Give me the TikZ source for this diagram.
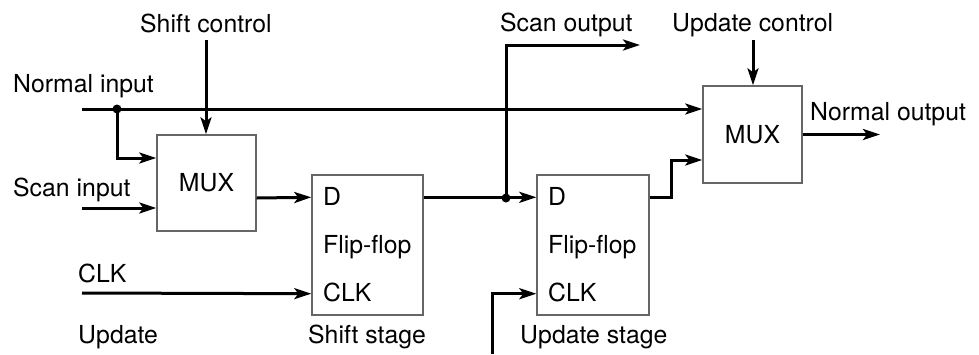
\documentclass[tikz,border=0pt]{standalone}
\usepackage{fontspec}
\setmainfont{TeX Gyre Heros}
\usetikzlibrary{arrows.meta}
\begin{document}
\begin{tikzpicture}[x=1pt,y=-1pt,
  every node/.style={font=\fontsize{24.8}{30}\selectfont, inner sep=0pt},
  blk/.style={draw=black!60, line width=1.4pt},
  wire/.style={line width=3pt, -{Stealth[length=17pt,width=11pt,inset=4pt]}},
  lbl/.style={anchor=base west},
  jdot/.style={circle, fill=black, minimum size=9pt, inner sep=0pt}
]
\useasboundingbox (0,0) rectangle (979,354);

% blocks
\node[blk, minimum width=99pt, minimum height=96pt] (mux1) at (206.5,183) {MUX};
\node[blk, minimum width=111pt, minimum height=140pt] (ff1) at (367.5,245) {};
\node[blk, minimum width=112pt, minimum height=140pt] (ff2) at (593,245) {};
\node[blk, minimum width=99pt, minimum height=97pt] (mux2) at (752.5,134.5) {MUX};

% texts inside flip-flops
\node[lbl] (ff1d) at (323,205) {D};
\node[lbl] (ff1f) at (323,253) {Flip-flop};
\node[lbl] (ff1c) at (323,301) {CLK};
\node[lbl] (ff2d) at (548,205) {D};
\node[lbl] (ff2f) at (548,253) {Flip-flop};
\node[lbl] (ff2c) at (548,301) {CLK};

% labels
\node[lbl] (lsc) at (140,32) {Shift control};
\node[lbl] (lni) at (13,92) {Normal input};
\node[lbl] (lsi) at (13,196) {Scan input};
\node[lbl] (lclk) at (78,282) {CLK};
\node[lbl] (lup) at (78,343) {Update};
\node[lbl] (lss) at (308,343) {Shift stage};
\node[lbl] (lus) at (520,343) {Update stage};
\node[lbl] (lso) at (500,31) {Scan output};
\node[lbl] (luc) at (672,31) {Update control};
\node[lbl] (lno) at (810,120) {Normal output};

% free ends
\coordinate (ni) at (82,109);
\coordinate (si) at (82,208);
\coordinate (sc) at (206,40);
\coordinate (clk) at (82,293);
\coordinate (so) at (640,45);
\coordinate (uclk) at (492,354);
\coordinate (upc) at (753,40);
\coordinate (no) at (880,134.5);

% junction dots
\node[jdot] (j1) at (117,109) {};
\node[jdot] (j2) at (506,198) {};

% wires
\draw[wire] (ni) -- (mux2.west |- ni);
\draw[wire] (j1.center) |- ([yshift=25pt]mux1.west);
\draw[wire] (si) -- (mux1.west |- si);
\draw[wire] (sc) -- (sc |- mux1.north);
\draw[wire] (mux1.east |- 0,198) -- ([yshift=-23pt]ff1.north west);
\draw[wire] (clk) -- ([yshift=22pt]ff1.south west);
\draw[wire] ([yshift=-23pt]ff1.north east) -- ([yshift=-23pt]ff2.north west);
\draw[wire] (j2.center) |- (so);
\draw[wire] (uclk) |- ([yshift=22pt]ff2.south west);
\draw[wire] ([yshift=-23pt]ff2.north east) -- ++(22,0) |- ([yshift=-25.5pt]mux2.west);
\draw[wire] (upc) -- (upc |- mux2.north);
\draw[wire] (mux2.east) -- (no);
\end{tikzpicture}
\end{document}
